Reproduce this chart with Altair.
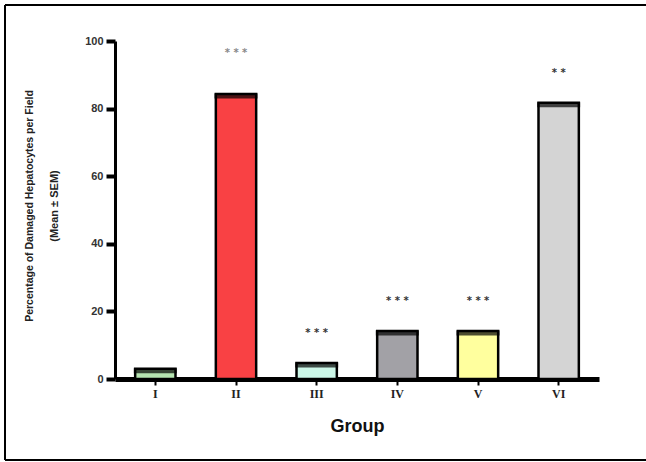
import altair as alt
import pandas as pd

# Group means and significance marks
groups = ["I", "II", "III", "IV", "V", "VI"]
values = [3.0, 84.3, 4.7, 14.2, 14.2, 81.7]
stars = ["", "***", "***", "***", "***", "**"]
colors = ["#b5e4b0", "#f94144", "#ccf7e8", "#a2a1a6", "#ffff9e", "#d4d4d4"]
y_ticks = [0, 20, 40, 60, 80, 100]
y_title = ["Percentage of Damaged Hepatocytes per Field", "(Mean \u00b1 SEM)"]
x_title = "Group"

df = pd.DataFrame({
    "group": groups,
    "value": values,
    "stars": [" ".join(s) for s in stars],
    "color": colors,
})

x_enc = alt.X(
    "group:N",
    sort=groups,
    scale=alt.Scale(paddingInner=0.5, paddingOuter=0.25),
    axis=alt.Axis(
        title=x_title,
        titleFont="Liberation Sans",
        titleFontSize=18,
        titleFontWeight="bold",
        titleColor="#111",
        titlePadding=18,
        labelAngle=0,
        labelFont="Liberation Serif",
        labelFontSize=12,
        labelFontWeight="bold",
        labelColor="#222",
        labelPadding=3,
        domainColor="black",
        domainWidth=5,
        tickColor="black",
        tickWidth=2,
        tickSize=6,
    ),
)

y_scale = alt.Scale(domain=[0, 100], nice=False)
y_enc = alt.Y(
    "value:Q",
    scale=y_scale,
    axis=alt.Axis(
        title=None,
        values=y_ticks,
        labelFont="Liberation Sans",
        labelFontSize=11,
        labelFontWeight="bold",
        labelColor="#333",
        labelPadding=3,
        domainColor="black",
        domainWidth=3,
        tickColor="black",
        tickWidth=4,
        tickSize=9,
        grid=False,
    ),
)

base = alt.Chart(df)

bars = base.mark_bar(stroke="black", strokeWidth=2.5).encode(
    x=x_enc,
    y=y_enc,
    color=alt.Color("color:N", scale=None, legend=None),
)

caps = base.mark_tick(color="black", thickness=5, size=43, yOffset=2).encode(
    x=alt.X("group:N", sort=groups),
    y=alt.Y("value:Q", scale=y_scale),
)

star_text = base.transform_filter(alt.datum.group != "II").mark_text(
    font="DejaVu Sans", fontSize=10, fontWeight="bold", color="#333",
    baseline="middle", dy=-30,
).encode(
    x=alt.X("group:N", sort=groups),
    y=alt.Y("value:Q", scale=y_scale),
    text="stars:N",
)

star_text_ii = base.transform_filter(alt.datum.group == "II").mark_text(
    font="DejaVu Sans", fontSize=10, fontWeight="bold", color="#888",
    baseline="middle", dy=-41,
).encode(
    x=alt.X("group:N", sort=groups),
    y=alt.Y("value:Q", scale=y_scale),
    text="stars:N",
)

one = alt.Chart(pd.DataFrame({"line1": [y_title[0]], "line2": [y_title[1]]}))

title1 = one.mark_text(
    angle=270, font="Liberation Sans", fontSize=10.5, fontWeight="bold",
    color="#222", align="center", baseline="middle",
).encode(x=alt.value(-85), y=alt.value(165), text="line1:N")

title2 = one.mark_text(
    angle=270, font="Liberation Sans", fontSize=11, fontWeight="bold",
    color="#222", align="center", baseline="middle",
).encode(x=alt.value(-60), y=alt.value(165), text="line2:N")

# Open frame around the figure: top, left and bottom edges
frame_top = one.mark_rule(color="black", strokeWidth=2).encode(
    x=alt.value(-110), x2=alt.value(540), y=alt.value(-36)
)
frame_left = one.mark_rule(color="black", strokeWidth=2).encode(
    x=alt.value(-110), y=alt.value(-36), y2=alt.value(419)
)
frame_bottom = one.mark_rule(color="black", strokeWidth=2).encode(
    x=alt.value(-110), x2=alt.value(540), y=alt.value(419)
)

chart = (
    alt.layer(frame_top, frame_left, frame_bottom, bars, caps,
              star_text, star_text_ii, title1, title2)
    .properties(
        width=484,
        height=338,
        padding={"left": 115, "top": 41, "right": 47, "bottom": 83},
        autosize=alt.AutoSizeParams(type="none"),
        background="white",
    )
    .configure_view(stroke=None)
)

chart.save("out.html", embed_options={"renderer": "svg", "actions": False})
